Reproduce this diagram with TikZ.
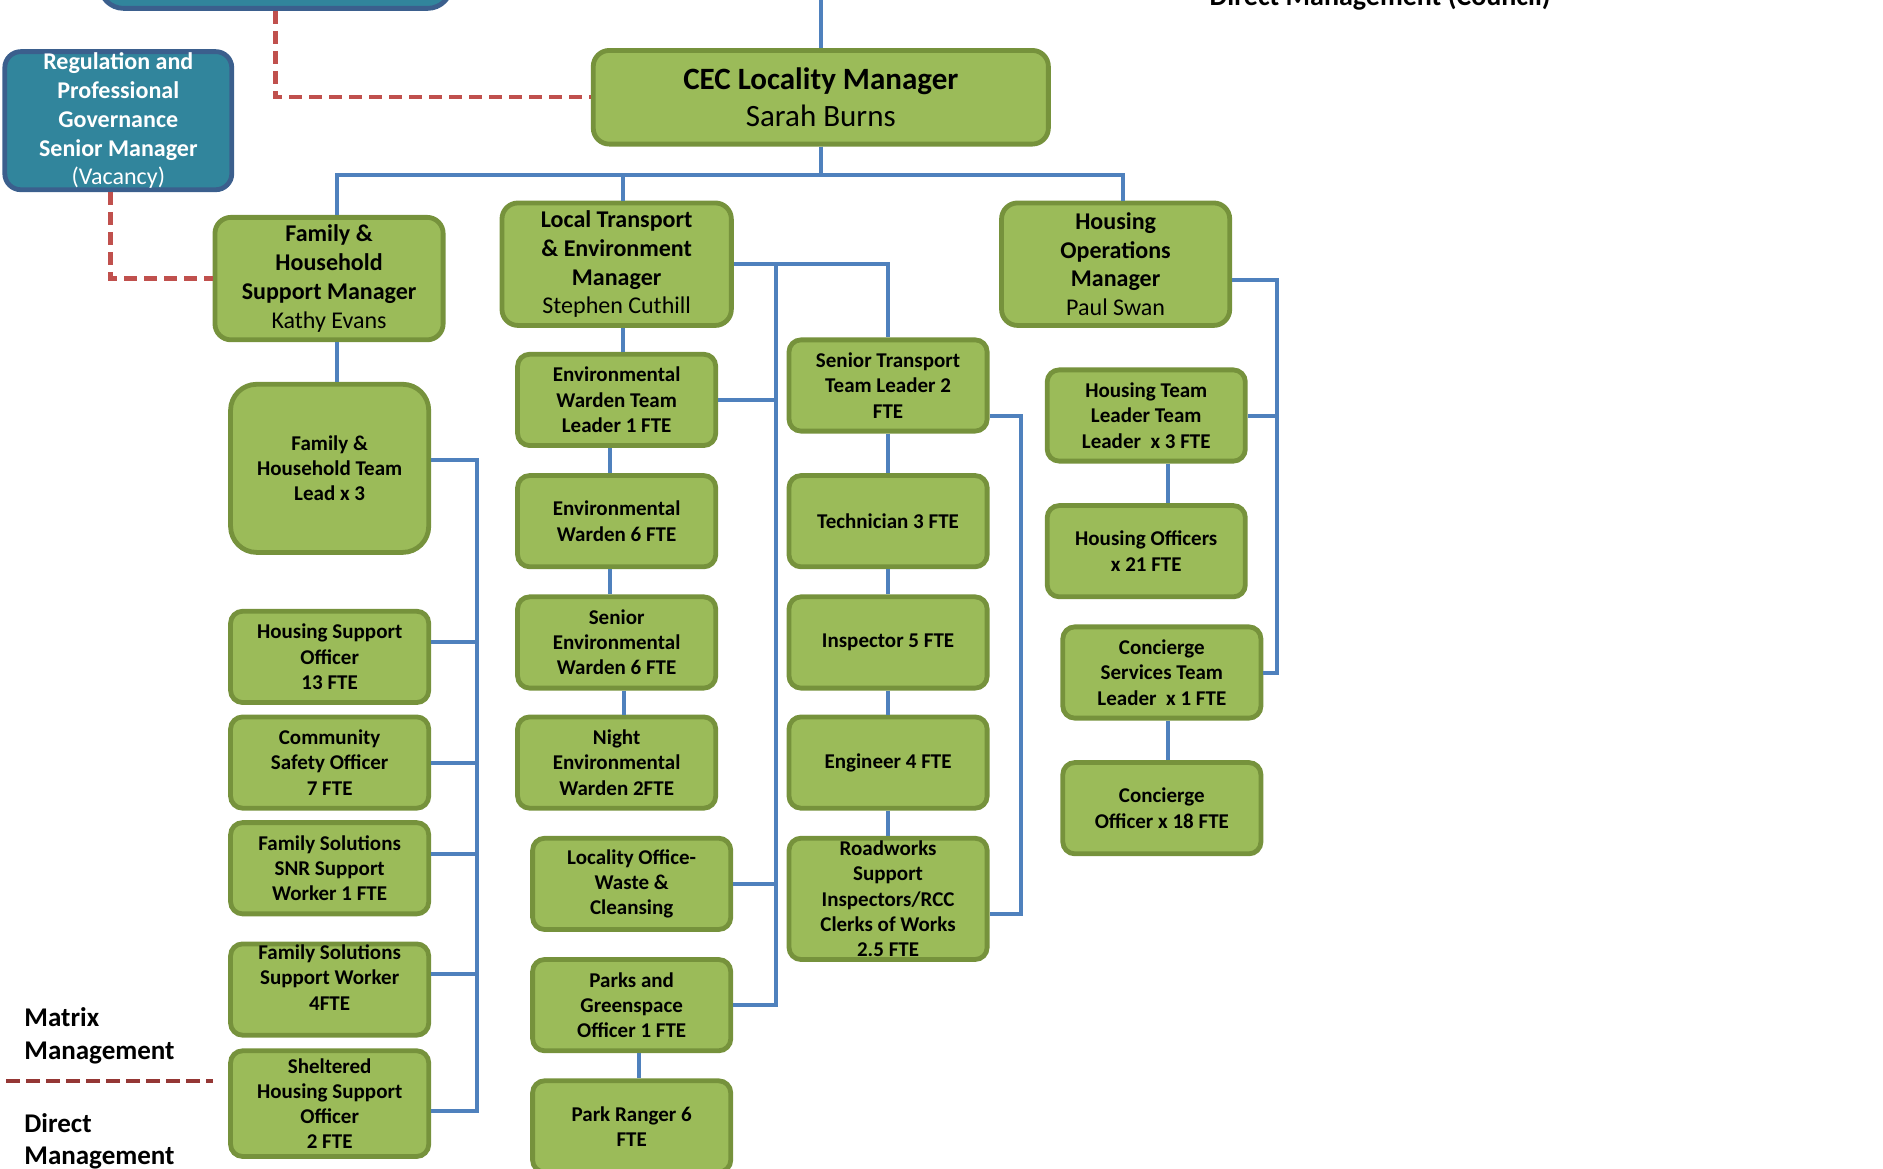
\documentclass[tikz,border=0pt]{standalone}
\usepackage{fontspec}
\setmainfont{Carlito}
\usetikzlibrary{positioning}

\definecolor{boxfill}{HTML}{9BBB59}
\definecolor{boxline}{HTML}{76923C}
\definecolor{regfill}{HTML}{31859C}
\definecolor{regline}{HTML}{3B5F8D}
\definecolor{linkblue}{HTML}{4F81BD}
\definecolor{matrixred}{HTML}{C0504D}
\definecolor{keyred}{HTML}{953735}

\begin{document}
\begin{tikzpicture}[x=0.6pt, y=-0.6pt,
  box/.style={draw=boxline, fill=boxfill, line width=2.4pt, rounded corners=6pt, minimum width=99pt, minimum height=45.6pt, inner sep=0pt, align=center, font=\bfseries\fontsize{10.5}{12.6}\selectfont},
  boxtext/.style={inner sep=0pt, align=center, font=\bfseries\fontsize{10.5}{12.6}\selectfont},
  mgrbox/.style={box, minimum width=114pt, minimum height=61.2pt, rounded corners=8pt, font=\bfseries\fontsize{12}{14.4}\selectfont},
  regbox/.style={mgrbox, draw=regline, fill=regfill, text=white, minimum width=113.4pt, minimum height=69pt},
  link/.style={draw=linkblue, line width=2pt},
  matrixlink/.style={draw=matrixred, line width=2.2pt, dash pattern=on 6.5pt off 3.5pt},
  keyline/.style={draw=keyred, line width=2.2pt, dash pattern=on 7pt off 3pt},
  keytext/.style={inner sep=0pt, align=left, anchor=west, font=\bfseries\fontsize{13.5}{16.2}\selectfont}
]
  \useasboundingbox (0,0) rectangle (1568,973);

  % top of the chart
  \node (topbox) [regbox, minimum width=175.8pt, minimum height=48pt, rounded corners=12pt] at (229.5,-33) {};
  \node (council) [keytext, anchor=base west, font=\bfseries\fontsize{14}{16.8}\selectfont] at (1007,5) {Direct Management (Council)};
  \coordinate (up) at (683.5,-10);
  \node (cec) [mgrbox, minimum width=227.4pt, minimum height=46.8pt, font=\bfseries\fontsize{15.5}{18.6}\selectfont] at (683.5,81) {CEC Locality Manager\\\mdseries Sarah Burns};
  \node (reg) [regbox] at (98.5,100.5) {Regulation and\\Professional\\Governance\\Senior Manager\\\mdseries (Vacancy)};

  % managers
  \node (fhsm) [mgrbox] at (274,232) {Family \&\\Household\\Support Manager\\\mdseries Kathy Evans};
  \node (lte) [mgrbox, minimum width=114.6pt] at (513.5,220) {Local Transport\\\& Environment\\Manager\\\mdseries Stephen Cuthill};
  \node (hom) [mgrbox] at (929,220) {Housing\\Operations\\Manager\\\mdseries Paul Swan};

  % family & household
  \node (fhtl) [box, minimum height=84pt, rounded corners=13pt] at (274.5,390) {Family \&\\Household Team\\Lead x 3};
  \node (hso) [box] at (274.5,547) {Housing Support\\Officer\\13 FTE};
  \node (cso) [box] at (274.5,635) {Community\\Safety Officer\\7 FTE};
  \node (fssnr) [box] at (274.5,723) {Family Solutions\\SNR Support\\Worker 1 FTE};
  \node (fssw) [box] at (274.5,824) {};
  \node (fsswtext) [boxtext] at (274.5,814) {Family Solutions\\Support Worker\\4FTE};
  \node (shso) [box, minimum height=52.8pt] at (274.5,919) {Sheltered\\Housing Support\\Officer\\2 FTE};

  % environment
  \node (ewtl) [box] at (513.5,333) {Environmental\\Warden Team\\Leader 1 FTE};
  \node (ew) [box] at (513.5,434) {Environmental\\Warden 6 FTE};
  \node (sew) [box] at (513.5,535) {Senior\\Environmental\\Warden 6 FTE};
  \node (new) [box] at (513.5,635) {Night\\Environmental\\Warden 2FTE};
  \node (lows) [box] at (526,736) {Locality Office-\\Waste \&\\Cleansing};
  \node (pgo) [box] at (526,837) {Parks and\\Greenspace\\Officer 1 FTE};
  \node (pr) [box] at (526,938) {Park Ranger 6\\FTE};

  % transport
  \node (sttl) [box] at (739.5,321) {Senior Transport\\Team Leader 2\\FTE};
  \node (tech) [box] at (739.5,434) {Technician 3 FTE};
  \node (insp) [box] at (739.5,535) {Inspector 5 FTE};
  \node (eng) [box] at (739.5,635) {Engineer 4 FTE};
  \node (road) [box, minimum height=60.6pt] at (739.5,748.5) {Roadworks\\Support\\Inspectors/RCC\\Clerks of Works\\2.5 FTE};

  % housing
  \node (htl) [box] at (954.5,346) {Housing Team\\Leader Team\\Leader\ \ x 3 FTE};
  \node (ho) [box] at (954.5,459) {Housing Officers\\x 21 FTE};
  \node (cstl) [box] at (967.5,560) {Concierge\\Services Team\\Leader\ \ x 1 FTE};
  \node (co) [box] at (967.5,673) {Concierge\\Officer x 18 FTE};

  % key
  \node (matrixkey) [keytext] at (20,862.5) {Matrix\\Management};
  \coordinate (keyA) at (5,900);
  \coordinate (keyB) at (177,900);
  \node (directkey) [keytext] at (20,950.5) {Direct\\Management};
  \draw [keyline] (keyA) -- (keyB);

  % matrix management
  \draw [matrixlink] (topbox.south) |- (cec.west);
  \draw [matrixlink] ([xshift=-3.9pt]reg.south) |- (fhsm.west);

  % direct management
  \draw [link] (cec.north) -- (up);
  \draw [link] (cec.south) -- ++(0,24) -| ([xshift=4.2pt]fhsm.north);
  \draw [link] (cec.south) -- ++(0,24) -| ([xshift=3.3pt]lte.north);
  \draw [link] (cec.south) -- ++(0,24) -| ([xshift=3.6pt]hom.north);

  \coordinate (fbus) at (397,0);
  \draw [link] ([xshift=4.2pt]fhsm.south) -- ([xshift=4.2pt]fhsm.south |- fhtl.north);
  \draw [link] ([yshift=4.2pt]fhtl.east) -| ([yshift=-3.6pt]shso.east -| fbus) -- ([yshift=-3.6pt]shso.east);
  \draw [link] ([yshift=7.2pt]hso.east) -- ([yshift=7.2pt]hso.east -| fbus);
  \draw [link] (cso.east) -- (cso.east -| fbus);
  \draw [link] ([yshift=7.2pt]fssnr.east) -- ([yshift=7.2pt]fssnr.east -| fbus);
  \draw [link] ([yshift=7.8pt]fssw.east) -- ([yshift=7.8pt]fssw.east -| fbus);

  \coordinate (tbus) at (646,0);
  \draw [link] ([xshift=3.3pt]lte.south) -- ([xshift=3.3pt]lte.south |- ewtl.north);
  \draw [link] ([xshift=-3.3pt]ewtl.south) -- ([xshift=-3.3pt]ewtl.south |- ew.north);
  \draw [link] ([xshift=-3.3pt]ew.south) -- ([xshift=-3.3pt]ew.south |- sew.north);
  \draw [link] ([xshift=3.9pt]sew.south) -- ([xshift=3.9pt]sew.south |- new.north);
  \draw [link] ([xshift=3.6pt]pgo.south) -- ([xshift=3.6pt]pgo.south |- pr.north);
  \draw [link] (lte.east) -| (sttl.north);
  \draw [link] (lte.east -| tbus) |- (pgo.east);
  \draw [link] (ewtl.east) -- (ewtl.east -| tbus);
  \draw [link] (lows.east) -- (lows.east -| tbus);

  \coordinate (rbus) at (850,0);
  \draw [link] (sttl) -- (tech);
  \draw [link] (tech) -- (insp);
  \draw [link] (insp) -- (eng);
  \draw [link] (eng) -- (road);
  \draw [link] ([yshift=-15pt]sttl.east) -| ([yshift=-7.5pt]road.east -| rbus) -- ([yshift=-7.5pt]road.east);

  \coordinate (hbus) at (1063,0);
  \draw [link] ([yshift=-7.8pt]hom.east) -| (cstl.east -| hbus) -- (cstl.east);
  \draw [link] (htl.east) -- (htl.east -| hbus);
  \draw [link] ([xshift=11.1pt]htl.south) -- ([xshift=11.1pt]htl.south |- ho.north);
  \draw [link] ([xshift=3.3pt]cstl.south) -- ([xshift=3.3pt]cstl.south |- co.north);
\end{tikzpicture}
\end{document}
